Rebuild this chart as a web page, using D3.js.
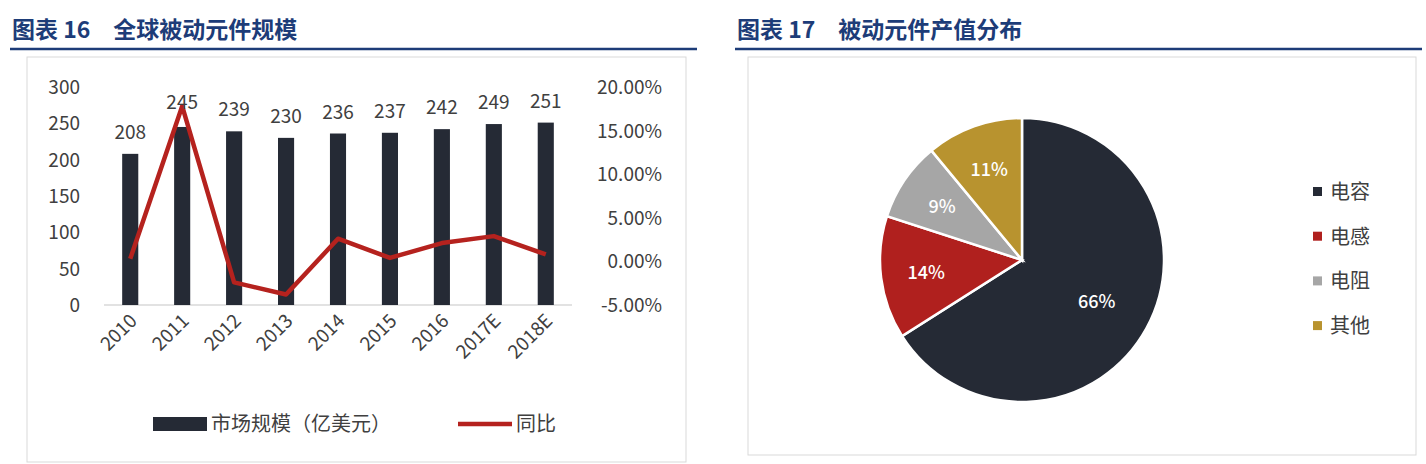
<!DOCTYPE html>
<html><head><meta charset="utf-8">
<script src="https://cdn.jsdelivr.net/npm/d3@7"></script>
<style>body{margin:0;background:#fff;font-family:"Noto Sans CJK SC","Open Sans",sans-serif}</style>
</head><body><svg id="c" width="1426" height="464"></svg>
<script>
const years = ['2010','2011','2012','2013','2014','2015','2016','2017E','2018E'];
const marketSize = [208,245,239,230,236,237,242,249,251];
const growth = [0.3,17.8,-2.4,-3.8,2.6,0.4,2.1,2.9,0.8];
const leftTicks = [0,50,100,150,200,250,300];
const rightTicks = [-5,0,5,10,15,20];
const pieLabels = ['电容','电感','电阻','其他'];
const pieValues = [66,14,9,11];
const pieColors = ['#252a35','#b0201e','#a6a6a6','#b8932f'];

const svg = d3.select('#c');
const titleColor = '#1d3c78';

// --- headers ---
function header(x0, x1, txt) {
  svg.append('text').attr('x', x0).attr('y', 38).attr('fill', titleColor)
    .attr('font-size', 23).attr('font-weight', 'bold').text(txt);
  svg.append('line').attr('x1', x0 - 2).attr('x2', x1).attr('y1', 49).attr('y2', 49)
    .attr('stroke', titleColor).attr('stroke-width', 2.5);
}
header(12, 697, '图表 16　全球被动元件规模');
header(737, 1422, '图表 17　被动元件产值分布');
svg.append('rect').attr('x', 27).attr('y', 57).attr('width', 659).attr('height', 405)
  .attr('fill', 'none').attr('stroke', '#d9d9d9');
svg.append('rect').attr('x', 748).attr('y', 57).attr('width', 668).attr('height', 398)
  .attr('fill', 'none').attr('stroke', '#d9d9d9');

// --- combo chart ---
const x = d3.scaleBand().domain(years).range([104, 572]).paddingInner(0.69).paddingOuter(0.35);
const y = d3.scaleLinear().domain([0, 300]).range([305, 87]);
const y2 = d3.scaleLinear().domain([-5, 20]).range([305, 87]);
const tickFont = 19, tickColor = '#404040';

svg.append('g').selectAll('text').data(leftTicks).join('text')
  .attr('x', 80).attr('y', d => y(d) + 7).attr('text-anchor', 'end')
  .attr('font-size', tickFont).attr('fill', tickColor).text(d => d);
svg.append('g').selectAll('text').data(rightTicks).join('text')
  .attr('x', 662).attr('y', d => y2(d) + 7).attr('text-anchor', 'end')
  .attr('font-size', tickFont).attr('fill', tickColor).text(d => d.toFixed(2) + '%');

svg.append('line').attr('x1', 104).attr('x2', 572).attr('y1', y(0)).attr('y2', y(0))
  .attr('stroke', '#d9d9d9').attr('stroke-width', 1.5);

svg.append('g').selectAll('rect').data(marketSize).join('rect')
  .attr('x', (d, i) => x(years[i])).attr('width', x.bandwidth())
  .attr('y', d => y(d)).attr('height', d => y(0) - y(d)).attr('fill', '#252a35');

const line = d3.line().x((d, i) => x(years[i]) + x.bandwidth() / 2).y(d => y2(d));
svg.append('path').datum(growth).attr('d', line).attr('fill', 'none')
  .attr('stroke', '#b5221e').attr('stroke-width', 4.5).attr('stroke-linejoin', 'round');

svg.append('g').selectAll('text').data(marketSize).join('text')
  .attr('x', (d, i) => x(years[i]) + x.bandwidth() / 2)
  .attr('y', (d, i) => y(d) - (i === 1 ? 18 : 15))
  .attr('text-anchor', 'middle').attr('font-size', tickFont).attr('fill', tickColor).text(d => d);

svg.append('g').selectAll('text').data(years).join('text')
  .attr('transform', d => `translate(${x(d) + x.bandwidth() / 2 + 8},${322}) rotate(-45)`)
  .attr('text-anchor', 'end').attr('font-size', tickFont).attr('fill', tickColor).text(d => d);

// legend
svg.append('rect').attr('x', 153).attr('y', 417).attr('width', 54).attr('height', 14).attr('fill', '#252a35');
svg.append('text').attr('x', 211).attr('y', 431).attr('font-size', 20).attr('fill', tickColor).text('市场规模（亿美元）');
svg.append('line').attr('x1', 458).attr('x2', 512).attr('y1', 424).attr('y2', 424)
  .attr('stroke', '#b5221e').attr('stroke-width', 4.5);
svg.append('text').attr('x', 516).attr('y', 431).attr('font-size', 20).attr('fill', tickColor).text('同比');

// --- pie ---
const cx = 1022, cy = 260, r = 142;
const pie = d3.pie().sort(null).value(d => d)(pieValues);
const arc = d3.arc().innerRadius(0).outerRadius(r);
const labelArc = d3.arc().innerRadius(r * 0.68).outerRadius(r * 0.68);
const pg = svg.append('g').attr('transform', `translate(${cx},${cy})`);
pg.selectAll('path').data(pie).join('path').attr('d', arc)
  .attr('fill', (d, i) => pieColors[i]).attr('stroke', '#fff').attr('stroke-width', 2.5);
pg.selectAll('text').data(pie).join('text')
  .attr('transform', (d, i) => {
    const c = (i === 0 ? d3.arc().innerRadius(r * 0.6).outerRadius(r * 0.6) : labelArc).centroid(d);
    return `translate(${c})`;
  })
  .attr('dy', 7).attr('text-anchor', 'middle').attr('font-size', 18).attr('font-weight', 500)
  .attr('fill', '#fff').text(d => d.data + '%');

const lg = svg.append('g').selectAll('g').data(pieLabels).join('g')
  .attr('transform', (d, i) => `translate(1313,${192 + i * 44.7})`);
lg.append('rect').attr('x', 0).attr('y', -5).attr('width', 9).attr('height', 9).attr('fill', (d, i) => pieColors[i]);
lg.append('text').attr('x', 17).attr('y', 7).attr('font-size', 20).attr('fill', tickColor).text(d => d);
</script></body></html>
